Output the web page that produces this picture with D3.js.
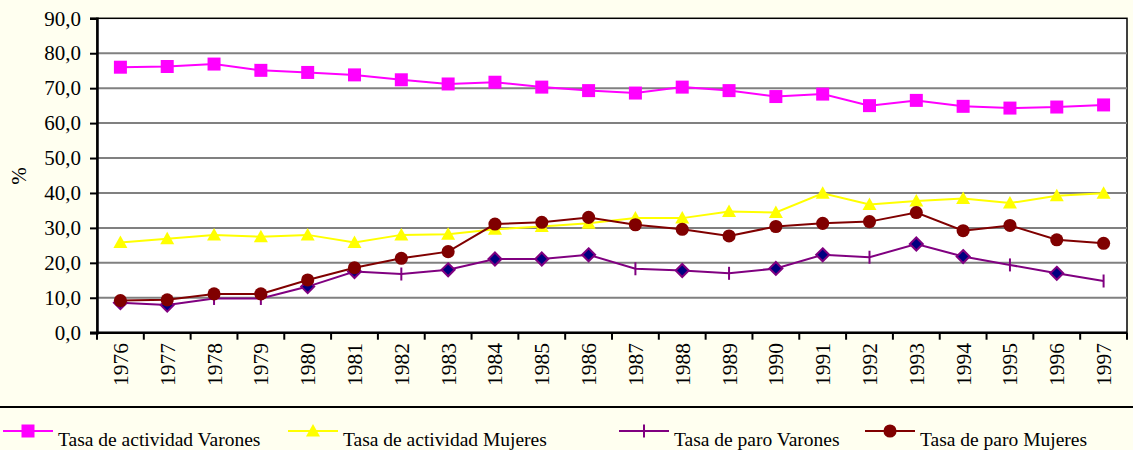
<!DOCTYPE html>
<html>
<head>
<meta charset="utf-8">
<script src="https://cdn.jsdelivr.net/npm/d3@7"></script>
<style>
  body { margin: 0; background: #fffff0; }
  svg { display: block; font-family: "Times New Roman", "Liberation Serif", serif; }
</style>
</head>
<body>
<svg id="chart" width="1133" height="450"></svg>
<script>
var years = ['1976','1977','1978','1979','1980','1981','1982','1983','1984','1985','1986',
             '1987','1988','1989','1990','1991','1992','1993','1994','1995','1996','1997']

var actVarones  = [76.0, 76.2, 76.9, 75.1, 74.5, 73.8, 72.4, 71.2, 71.7, 70.3, 69.3,
                   68.6, 70.3, 69.3, 67.6, 68.3, 65.0, 66.5, 64.8, 64.3, 64.6, 65.2]
var actMujeres  = [25.8, 26.9, 28.0, 27.5, 28.0, 25.8, 28.0, 28.2, 29.6, 30.4, 31.3,
                   32.8, 32.8, 34.7, 34.4, 39.9, 36.7, 37.7, 38.4, 37.1, 39.2, 39.9]
var paroVarones = [8.6, 7.9, 9.8, 9.8, 13.2, 17.5, 16.8, 18.0, 21.1, 21.1, 22.3,
                   18.3, 17.8, 17.0, 18.4, 22.3, 21.6, 25.4, 21.8, 19.4, 17.0, 14.8]
var paroMujeres = [9.2, 9.4, 11.1, 11.1, 15.1, 18.6, 21.3, 23.2, 31.1, 31.6, 33.0,
                   30.9, 29.6, 27.7, 30.4, 31.3, 31.8, 34.4, 29.2, 30.7, 26.6, 25.6]

// some points of "paro Varones" carry a diamond marker instead of the "+"
var paroVaronesMarker = ['diamond','diamond','plus','plus','diamond','diamond','plus','diamond',
                         'diamond','diamond','diamond','plus','diamond','plus','diamond','diamond',
                         'plus','diamond','diamond','plus','diamond','plus']

var yTicks = [0, 10, 20, 30, 40, 50, 60, 70, 80, 90]
var seriesNames = ['Tasa de actividad Varones', 'Tasa de actividad Mujeres',
                   'Tasa de paro Varones', 'Tasa de paro Mujeres']

var series = [
  {name: seriesNames[0], values: actVarones,  color: '#ff00ff', marker: function(){ return 'square' }},
  {name: seriesNames[1], values: actMujeres,  color: '#ffff00', marker: function(){ return 'triangle' }},
  {name: seriesNames[2], values: paroVarones, color: '#800080', marker: function(i){ return i == null ? 'plus' : paroVaronesMarker[i] }},
  {name: seriesNames[3], values: paroMujeres, color: '#800000', marker: function(){ return 'circle' }}
]

var svg = d3.select('#chart')
var plotL = 97, plotR = 1127, plotT = 18.3, plotB = 332.7

var x = d3.scaleBand().domain(years).range([plotL, plotR])
var y = d3.scaleLinear().domain([0, 90]).range([plotB, plotT])

// plot area
svg.append('rect')
    .attr('x', plotL).attr('y', plotT)
    .attr('width', plotR - plotL).attr('height', plotB - plotT)
    .attr('fill', '#fff')
    .attr('stroke', '#000').attr('stroke-width', 1.5)

// gridlines
svg.append('g').selectAll('line')
    .data(yTicks.filter(function(d){ return d > 0 && d < 90 }))
  .enter().append('line')
    .attr('x1', plotL).attr('x2', plotR)
    .attr('y1', function(d){ return y(d) }).attr('y2', function(d){ return y(d) })
    .attr('stroke', '#808080').attr('stroke-width', 2)

// y axis
var yAxis = svg.append('g')
    .attr('transform', 'translate(' + plotL + ',0)')
    .attr('font-family', null)
    .call(d3.axisLeft(y).tickValues(yTicks).tickSize(7).tickPadding(9)
      .tickFormat(function(d){ return d3.format('.1f')(d).replace('.', ',') }))
yAxis.attr('font-family', '"Times New Roman", "Liberation Serif", serif').attr('font-size', 21)
yAxis.select('.domain').attr('stroke', '#000').attr('stroke-width', 2.5)
yAxis.selectAll('.tick line').attr('stroke', '#000').attr('stroke-width', 2)
yAxis.selectAll('text').attr('fill', '#000')

svg.append('text')
    .attr('transform', 'translate(26,176) rotate(-90)')
    .attr('text-anchor', 'middle')
    .attr('font-size', 21)
    .text('%')

// x axis
svg.append('line')
    .attr('x1', plotL - 7).attr('x2', plotR)
    .attr('y1', plotB).attr('y2', plotB)
    .attr('stroke', '#000').attr('stroke-width', 2.5)
svg.append('g').selectAll('line')
    .data(years.map(function(d){ return x(d) }).concat([plotR]))
  .enter().append('line')
    .attr('x1', function(d){ return d }).attr('x2', function(d){ return d })
    .attr('y1', plotB).attr('y2', plotB + 7)
    .attr('stroke', '#000').attr('stroke-width', 2)
svg.append('g').selectAll('text')
    .data(years)
  .enter().append('text')
    .attr('transform', function(d){ return 'translate(' + (x(d) + x.bandwidth() / 2) + ',343) rotate(-90)' })
    .attr('text-anchor', 'end')
    .attr('dy', '0.35em')
    .attr('font-size', 21.5)
    .text(function(d){ return d })

function markerPath(type) {
  if (type == 'square') return 'M-6.5,-6.5H6.5V6.5H-6.5Z'
  if (type == 'triangle') return 'M0,-7L7,5.5H-7Z'
  if (type == 'diamond') return 'M0,-6.5L6.5,0L0,6.5L-6.5,0Z'
  if (type == 'plus') return 'M0,-6.5V6.5'
  return d3.symbol(d3.symbolCircle, 135)()
}

function drawMarker(g, type, color) {
  var p = g.append('path').attr('d', markerPath(type))
  if (type == 'plus') p.attr('fill', 'none').attr('stroke', color).attr('stroke-width', 2)
  else if (type == 'diamond') p.attr('fill', '#000080').attr('stroke', color).attr('stroke-width', 2)
  else p.attr('fill', color)
}

var line = d3.line()
    .x(function(d, i){ return x(years[i]) + x.bandwidth() / 2 })
    .y(function(d){ return y(d) })

series.forEach(function(s) {
  var g = svg.append('g')
  g.append('path')
      .attr('d', line(s.values))
      .attr('fill', 'none')
      .attr('stroke', s.color)
      .attr('stroke-width', 2)
  s.values.forEach(function(v, i) {
    var m = g.append('g')
        .attr('transform', 'translate(' + (x(years[i]) + x.bandwidth() / 2) + ',' + y(v) + ')')
    drawMarker(m, s.marker(i), s.color)
  })
})

// separator and legend
svg.append('line')
    .attr('x1', 0).attr('x2', 1133)
    .attr('y1', 407).attr('y2', 407)
    .attr('stroke', '#000').attr('stroke-width', 2)

var legendX = [3, 288, 619, 865]
series.forEach(function(s, i) {
  var g = svg.append('g').attr('transform', 'translate(' + legendX[i] + ',431)')
  g.append('line').attr('x1', 0).attr('x2', 50)
      .attr('stroke', s.color).attr('stroke-width', 2)
  var m = g.append('g').attr('transform', 'translate(25,0)')
  drawMarker(m, s.marker(null), s.color)
  g.append('text')
      .attr('x', 55).attr('y', 15)
      .attr('font-size', 19.5)
      .text(s.name)
})
</script>
</body>
</html>
